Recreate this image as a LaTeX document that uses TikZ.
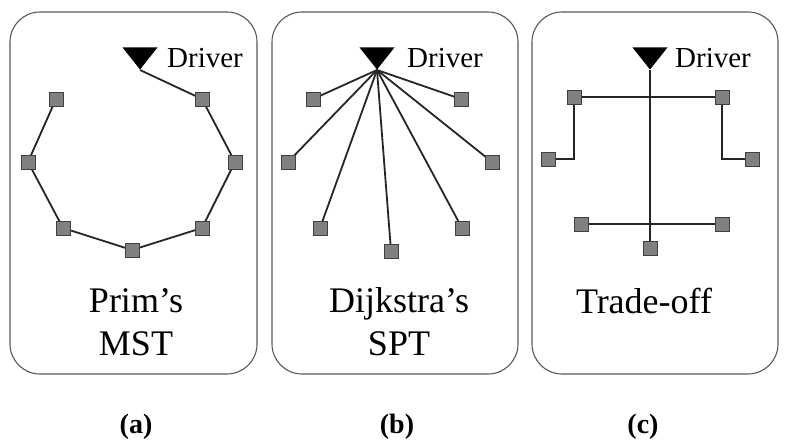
\documentclass[tikz,border=0pt]{standalone}
\usepackage{fontspec}
\setmainfont{Liberation Serif}
\usepackage{tikz}
\usetikzlibrary{shapes, positioning}

\tikzset{
  panel/.style={draw=black!65, line width=1.1pt, rounded corners=30pt},
  sensor/.style={rectangle, draw=black!75, fill=black!50, line width=0.8pt, minimum size=14pt, inner sep=0pt},
  driver/.style={isosceles triangle, isosceles triangle stretches, shape border rotate=270, fill=black, inner sep=0pt, minimum width=35pt, minimum height=22pt, anchor=apex},
  drvtext/.style={font=\fontsize{29}{31}\selectfont, inner sep=0pt, anchor=base west},
  title/.style={font=\fontsize{36}{43}\selectfont, align=center, inner sep=0pt, anchor=base},
  caption/.style={font=\fontsize{28}{30}\selectfont\bfseries, inner sep=0pt},
  wire/.style={line width=1.8pt, black!85}
}

\begin{document}
\begin{tikzpicture}[x=1pt, y=-1pt]
  \useasboundingbox (0,0) rectangle (794,444);

  % frames
  \draw[panel] (10,12) rectangle (257,374);
  \draw[panel] (272,12) rectangle (518,374);
  \draw[panel] (532,12) rectangle (778,374);

  % (a) Prim's MST
  \node[driver] (drva) at (140,70) {};
  \node[drvtext] (ta) at (167,67) {Driver};
  \node[sensor] (a1) at (56,99) {};
  \node[sensor] (a2) at (202,99) {};
  \node[sensor] (a3) at (28,162) {};
  \node[sensor] (a4) at (235,162) {};
  \node[sensor] (a5) at (63,228) {};
  \node[sensor] (a6) at (202,228) {};
  \node[sensor] (a7) at (132,250) {};
  \draw[wire] (drva.apex) -- (a2.center) -- (a4.center) -- (a6.center) -- (a7.center)
              -- (a5.center) -- (a3.center) -- (a1.center);
  \foreach \s in {a1,a2,a3,a4,a5,a6,a7}
    \node[sensor] at (\s) {};
  \node[title] (na) at (136,355) {Prim’s\\MST};

  % (b) Dijkstra's SPT
  \node[driver] (drvb) at (377,70) {};
  \node[drvtext] (tb) at (407,67) {Driver};
  \node[sensor] (b1) at (313,99) {};
  \node[sensor] (b2) at (461,99) {};
  \node[sensor] (b3) at (288,162) {};
  \node[sensor] (b4) at (492,162) {};
  \node[sensor] (b5) at (320,228) {};
  \node[sensor] (b6) at (462,228) {};
  \node[sensor] (b7) at (391,251) {};
  \foreach \s in {b1,b2,b3,b4,b5,b6,b7}
    \draw[wire] (drvb.apex) -- (\s.center);
  \foreach \s in {b1,b2,b3,b4,b5,b6,b7}
    \node[sensor] at (\s) {};
  \node[title] (nb) at (399,355) {Dijkstra’s\\SPT};

  % (c) Trade-off
  \node[driver] (drvc) at (650,70) {};
  \node[drvtext] (tc) at (675,67) {Driver};
  \node[sensor] (c1) at (574,97) {};
  \node[sensor] (c2) at (722,97) {};
  \node[sensor] (c3) at (548,159) {};
  \node[sensor] (c4) at (752,159) {};
  \node[sensor] (c5) at (581,224) {};
  \node[sensor] (c6) at (722,224) {};
  \node[sensor] (c7) at (650,248) {};
  \draw[wire] (drvc.apex) -- (c7.center);
  \draw[wire] (c1.center) -- (c2.center);
  \draw[wire] (c5.center) -- (c6.center);
  \draw[wire] (c1.center) |- (c3.center);
  \draw[wire] (c2.center) |- (c4.center);
  \foreach \s in {c1,c2,c3,c4,c5,c6,c7}
    \node[sensor] at (\s) {};
  \node[title] (nc) at (644,313) {Trade-off};

  % captions
  \node[caption] (capa) at (136,427) {(a)};
  \node[caption] (capb) at (397,427) {(b)};
  \node[caption] (capc) at (643,427) {(c)};
\end{tikzpicture}
\end{document}
